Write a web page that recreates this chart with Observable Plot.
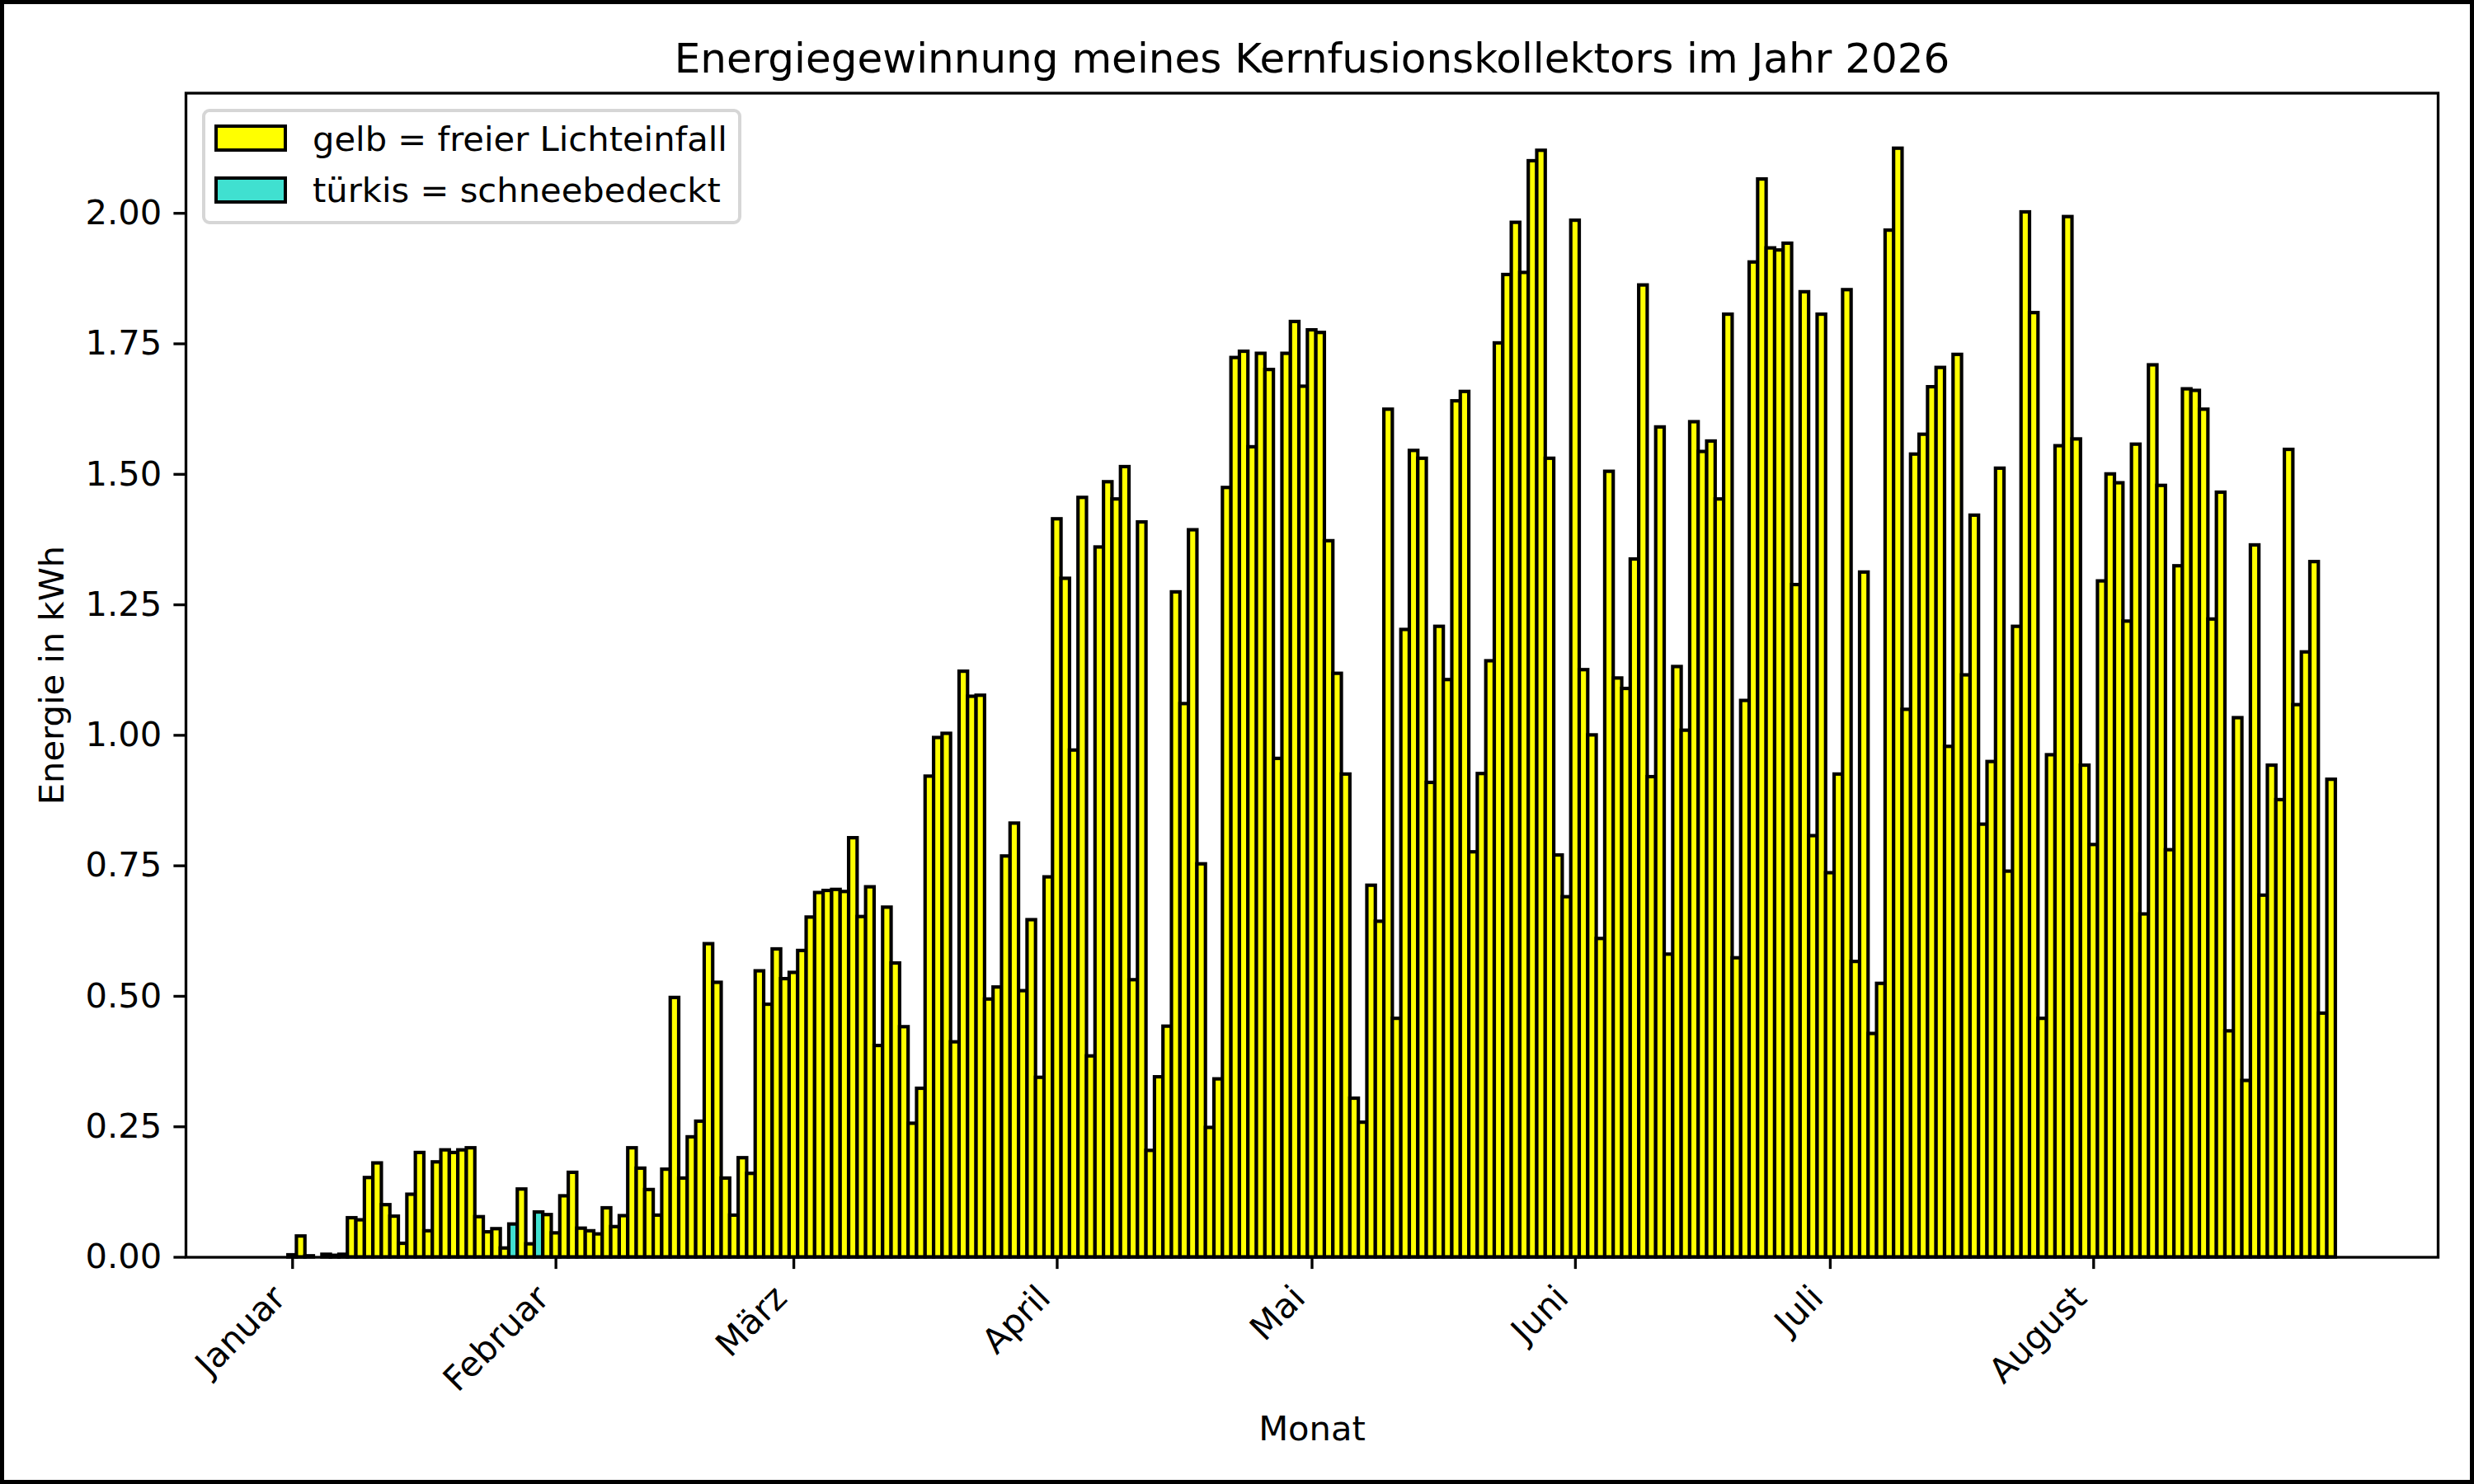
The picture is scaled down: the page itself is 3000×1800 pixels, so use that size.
<!DOCTYPE html>
<html>
<head>
<meta charset="utf-8">
<script src="https://cdn.jsdelivr.net/npm/d3@7"></script>
<script src="https://cdn.jsdelivr.net/npm/@observablehq/plot@0.6"></script>
<style>
html, body { margin: 0; padding: 0; background: #fff; }
#wrap { position: relative; width: 3000px; height: 1800px; overflow: hidden; font-family: "DejaVu Sans", sans-serif; background: #fff; }
#wrap svg { position: absolute; left: 0; top: 0; }
#border { position: absolute; left: 0; top: 0; width: 3000px; height: 1800px; box-sizing: border-box; border: 5px solid #000; pointer-events: none; }
.lg-box { position: absolute; left: 245.4px; top: 132.3px; width: 653.2px; height: 140px; box-sizing: border-box; border: 4px solid #d6d6d6; border-radius: 9px; background: rgba(255,255,255,0.8); }
.lg-patch { position: absolute; left: 260.4px; width: 87.5px; height: 33.4px; box-sizing: border-box; border: 4.17px solid #000; }
.lg-text { position: absolute; left: 379px; font-size: 41.67px; line-height: 41.67px; white-space: nowrap; color: #000; font-family: "DejaVu Sans", sans-serif; }
</style>
</head>
<body>
<div id="wrap"></div>
<script>
// ---- data (kWh per day) ----
const title = "Energiegewinnung meines Kernfusionskollektors im Jahr 2026";
const xLabel = "Monat";
const yLabel = "Energie in kWh";
const monthNames = ["Januar", "Februar", "März", "April", "Mai", "Juni", "Juli", "August"];
const categories = ["gelb = freier Lichteinfall", "türkis = schneebedeckt"];
const categoryColors = ["#ffff00", "#40e0d0"];
const snowDays = ["2026-01-27", "2026-01-30"];
const yTicks = [0, 0.25, 0.5, 0.75, 1.0, 1.25, 1.5, 1.75, 2.0];

const jan = [0.004, 0.04, 0.002, 0.0, 0.005, 0.003, 0.005, 0.075, 0.071, 0.152,
             0.18, 0.10, 0.078, 0.026, 0.12, 0.20, 0.05, 0.182, 0.205, 0.20,
             0.205, 0.209, 0.077, 0.048, 0.054, 0.017, 0.063, 0.13, 0.025, 0.086, 0.081];
const feb = [0.046, 0.117, 0.162, 0.055, 0.05, 0.044, 0.094, 0.058, 0.079, 0.209,
             0.17, 0.129, 0.08, 0.168, 0.497, 0.151, 0.23, 0.26, 0.60, 0.526,
             0.151, 0.08, 0.19, 0.16, 0.548, 0.484, 0.59, 0.533];
const mar = [0.545, 0.587, 0.651, 0.698, 0.702, 0.704, 0.70, 0.803, 0.652, 0.709,
             0.405, 0.67, 0.563, 0.441, 0.256, 0.323, 0.921, 0.995, 1.003, 0.412,
             1.122, 1.074, 1.076, 0.494, 0.517, 0.768, 0.831, 0.51, 0.646, 0.344, 0.728];
const apr = [1.414, 1.30, 0.971, 1.455, 0.385, 1.36, 1.485, 1.452, 1.514, 0.531,
             1.408, 0.204, 0.345, 0.442, 1.274, 1.06, 1.393, 0.753, 0.248, 0.341,
             1.474, 1.723, 1.735, 1.552, 1.731, 1.70, 0.955, 1.731, 1.792, 1.668];
const may = [1.776, 1.771, 1.372, 1.118, 0.925, 0.304, 0.258, 0.712, 0.643, 1.624,
             0.457, 1.202, 1.545, 1.53, 0.909, 1.208, 1.106, 1.64, 1.658, 0.776,
             0.926, 1.142, 1.751, 1.882, 1.982, 1.886, 2.10, 2.12, 1.53, 0.77, 0.69];
const jun = [1.986, 1.125, 1.0, 0.61, 1.505, 1.109, 1.089, 1.337, 1.862, 0.92,
             1.59, 0.58, 1.131, 1.009, 1.60, 1.543, 1.563, 1.452, 1.806, 0.573,
             1.066, 1.906, 2.065, 1.933, 1.929, 1.942, 1.288, 1.849, 0.807, 1.806];
const jul = [0.736, 0.925, 1.853, 0.566, 1.312, 0.428, 0.524, 1.967, 2.124, 1.049,
             1.538, 1.576, 1.667, 1.704, 0.978, 1.729, 1.115, 1.421, 0.829, 0.949,
             1.511, 0.739, 1.208, 2.002, 1.809, 0.457, 0.962, 1.554, 1.993, 1.567, 0.942];
const aug = [0.79, 1.295, 1.50, 1.483, 1.218, 1.557, 0.657, 1.709, 1.478, 0.78,
             1.324, 1.663, 1.66, 1.624, 1.222, 1.465, 0.433, 1.033, 0.338, 1.364,
             0.693, 0.942, 0.876, 1.547, 1.058, 1.159, 1.332, 0.467, 0.915];

// ---- build table ----
const DAY = 864e5;
const months = [jan, feb, mar, apr, may, jun, jul, aug];
const data = [];
months.forEach((arr, m) => arr.forEach((v, i) => {
  const date = new Date(Date.UTC(2026, m, i + 1));
  const iso = date.toISOString().slice(0, 10);
  data.push({date, value: v, kind: snowDays.includes(iso) ? categories[1] : categories[0]});
}));
const monthStarts = monthNames.map((name, m) => ({date: new Date(Date.UTC(2026, m, 1)), name}));

// matplotlib-like 5% margins around the bar extent
const first = +data[0].date - DAY / 2, last = +data[data.length - 1].date + DAY / 2;
const pad = (last - first) * 0.05;
const xDomain = [new Date(first - pad), new Date(last + pad)];
const yMax = d3.max(data, d => d.value) * 1.05;

const FS = 41.67;
const chart = Plot.plot({
  width: 3000,
  height: 1800,
  marginLeft: 225,
  marginRight: 44,
  marginTop: 112.5,
  marginBottom: 275.5,
  style: {fontFamily: "DejaVu Sans", fontSize: FS + "px", background: "transparent", color: "black", overflow: "visible"},
  x: {type: "utc", domain: xDomain},
  y: {domain: [0, yMax]},
  color: {domain: categories, range: categoryColors},
  marks: [
    Plot.rect(data, {
      x1: d => new Date(+d.date - DAY / 2),
      x2: d => new Date(+d.date + DAY / 2),
      y1: 0,
      y2: "value",
      fill: "kind",
      stroke: "black",
      strokeWidth: 4.17
    }),
    Plot.frame({stroke: "black", strokeWidth: 3.33}),
    Plot.axisY(yTicks, {tickFormat: d3.format(".2f"), tickSize: 14.6, tickPadding: 14.7, strokeWidth: 3.33, fontSize: FS, label: null}),
    Plot.axisX(monthStarts.map(d => d.date), {tickSize: 14.6, strokeWidth: 3.33, tickFormat: () => "", label: null}),
    Plot.text(monthStarts, {x: "date", text: "name", frameAnchor: "bottom", rotate: -45, textAnchor: "end", lineAnchor: "bottom", dx: -6.1, dy: 51.9, fontSize: FS}),
    Plot.text([yLabel], {text: d => d, frameAnchor: "left", rotate: -90, textAnchor: "middle", lineAnchor: "bottom", dx: -148.5, fontSize: FS}),
    Plot.text([xLabel], {text: d => d, frameAnchor: "bottom", textAnchor: "middle", lineAnchor: "bottom", dy: 221.5, fontSize: FS}),
    Plot.text([title], {text: d => d, frameAnchor: "top", textAnchor: "middle", lineAnchor: "bottom", dy: -25, fontSize: 50})
  ]
});

const wrap = document.getElementById("wrap");
wrap.appendChild(chart);

// legend (HTML, placed inside the axes' upper-left corner)
const box = document.createElement("div");
box.className = "lg-box";
wrap.appendChild(box);
const rowTops = [151.1, 213.6];
const textTops = [147.7, 210.2];
categories.forEach((c, i) => {
  const p = document.createElement("div");
  p.className = "lg-patch";
  p.style.top = rowTops[i] + "px";
  p.style.background = categoryColors[i];
  wrap.appendChild(p);
  const t = document.createElement("div");
  t.className = "lg-text";
  t.style.top = textTops[i] + "px";
  t.textContent = c;
  wrap.appendChild(t);
});

const border = document.createElement("div");
border.id = "border";
wrap.appendChild(border);
</script>
</body>
</html>
